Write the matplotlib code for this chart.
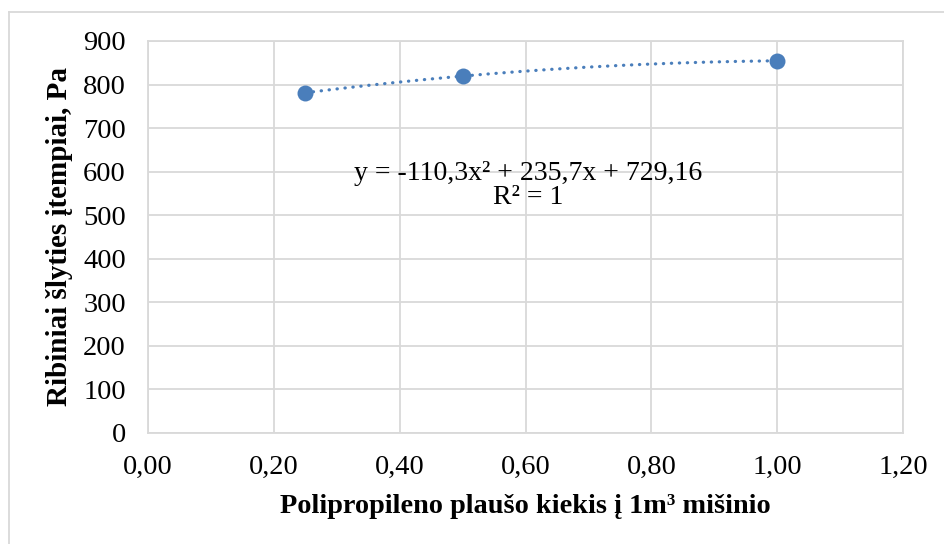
import numpy as np
import matplotlib
matplotlib.use("Agg")
import matplotlib.pyplot as plt
from matplotlib.ticker import FuncFormatter, MultipleLocator
from matplotlib.lines import Line2D

# Fibre content (per 1 m3 mix) and measured yield stress
fibre_amount = [0.25, 0.50, 1.00]
yield_stress = [781.19, 819.44, 854.56]

# Second-order polynomial trend line coefficients
trend_coef = [-110.3, 235.7, 729.16]

x_label = "Polipropileno plaušo kiekis į 1m³ mišinio"
y_label = "Ribiniai šlyties įtempiai, Pa"
eq_text = "y = -110,3x² + 235,7x + 729,16\nR² = 1"

plt.rcParams["font.family"] = ["Liberation Serif", "DejaVu Serif"]

W, H = 944, 544
fig = plt.figure(figsize=(W / 100, H / 100), dpi=100)
ax = fig.add_axes([148 / W, 1 - 433 / H, (903 - 148) / W, (433 - 41) / H])

grid_c = "#d9d9d9"
blue = "#4a7ebb"

# Trend line across the measured range
xs = np.linspace(min(fibre_amount), max(fibre_amount), 200)
ys = np.polyval(trend_coef, xs)
ax.plot(xs, ys, color=blue, lw=2.3, linestyle=(0, (0.1, 2.4)),
        dash_capstyle="round", zorder=3)
ax.plot(fibre_amount, yield_stress, "o", color=blue, ms=11.5, zorder=4,
        markeredgewidth=0)

ax.set_xlim(0, 1.2)
ax.set_ylim(0, 900)
ax.xaxis.set_major_locator(MultipleLocator(0.2))
ax.yaxis.set_major_locator(MultipleLocator(100))
ax.xaxis.set_major_formatter(FuncFormatter(lambda v, p: f"{v:.2f}".replace(".", ",")))
ax.yaxis.set_major_formatter(FuncFormatter(lambda v, p: f"{v:.0f}"))
ax.grid(True, color=grid_c, lw=1.3)
ax.set_axisbelow(True)
for s in ax.spines.values():
    s.set_color(grid_c)
    s.set_linewidth(1.3)
ax.tick_params(length=0, labelsize=20.5, colors="black")
ax.tick_params(axis="y", pad=16)
ax.tick_params(axis="x", pad=16)

ax.set_xlabel(x_label, fontsize=20.3, fontweight="bold", labelpad=10)
ax.set_ylabel(y_label, fontsize=21, fontweight="bold", labelpad=7)

ax.text(0.604, 569, eq_text, fontsize=20, ha="center", va="center",
        linespacing=0.95, zorder=5)

# Outer chart frame (top and left edges)
fig.add_artist(Line2D([9 / W, 1.0], [1 - 12 / H, 1 - 12 / H], color="#d9d9d9", lw=1.3))
fig.add_artist(Line2D([9 / W, 9 / W], [0, 1 - 12 / H], color="#d9d9d9", lw=1.3))

fig.savefig("out.png", dpi=100)
